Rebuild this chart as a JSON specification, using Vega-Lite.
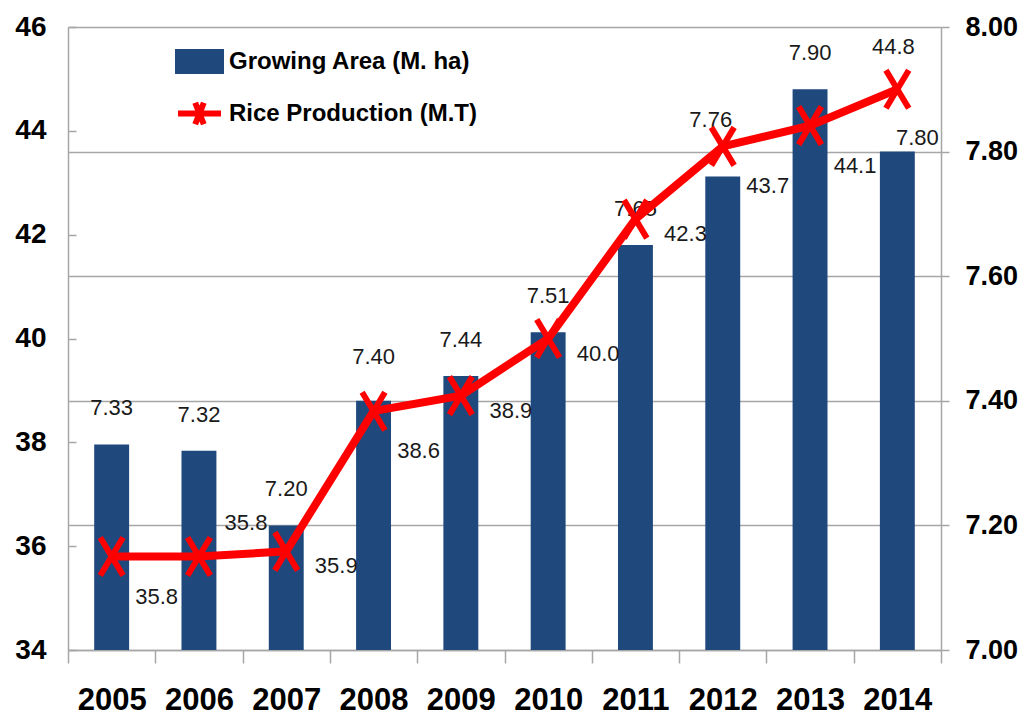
{
  "$schema": "https://vega.github.io/schema/vega-lite/v6.json",
  "width": 873,
  "height": 623,
  "autosize": {"type": "none"},
  "padding": {"left": 68, "top": 27, "right": 80, "bottom": 71},
  "background": "white",
  "config": {
    "view": {"stroke": null},
    "font": "Liberation Sans",
    "axis": {"domainColor": "#a6a6a6", "tickColor": "#a6a6a6", "gridColor": "#a6a6a6", "domainWidth": 1.5, "tickWidth": 1.5, "gridWidth": 1.5, "labelColor": "#000000", "titleColor": "#000000", "labelFont": "Liberation Sans"},
    "legend": {"labelFont": "Liberation Sans"},
    "text": {"font": "Liberation Sans"}
  },
  "data": {
    "values": [
      {"year": "2005", "area": 7.33, "production": 35.8},
      {"year": "2006", "area": 7.32, "production": 35.8},
      {"year": "2007", "area": 7.20, "production": 35.9},
      {"year": "2008", "area": 7.40, "production": 38.6},
      {"year": "2009", "area": 7.44, "production": 38.9},
      {"year": "2010", "area": 7.51, "production": 40.0},
      {"year": "2011", "area": 7.65, "production": 42.3},
      {"year": "2012", "area": 7.76, "production": 43.7},
      {"year": "2013", "area": 7.90, "production": 44.1},
      {"year": "2014", "area": 7.80, "production": 44.8}
    ]
  },
  "encoding": {
    "x": {
      "field": "year",
      "type": "ordinal",
      "scale": {"paddingInner": 0, "paddingOuter": 0},
      "axis": {
        "title": null,
        "labelAngle": 0,
        "labelFontSize": 31,
        "labelFontWeight": "bold",
        "labelPadding": 22,
        "tickSize": 13,
        "tickBand": "extent",
        "labelOverlap": false,
        "grid": false
      }
    }
  },
  "layer": [
    {
      "encoding": {
        "y": {
          "field": "area",
          "type": "quantitative",
          "scale": {"domain": [7, 8], "nice": false, "zero": false},
          "axis": {
            "orient": "right",
            "title": null,
            "values": [7, 7.2, 7.4, 7.6, 7.8, 8],
            "format": ".2f",
            "labelFontSize": 27,
            "labelFontWeight": "bold",
            "tickSize": 8,
            "labelPadding": 16,
            "grid": true
          }
        }
      },
      "layer": [
        {
          "mark": {"type": "bar", "clip": true, "width": {"band": 0.4}},
          "encoding": {
            "y2": {"datum": 7},
            "color": {
              "datum": "Growing Area (M. ha)",
              "type": "nominal",
              "scale": {"domain": ["Growing Area (M. ha)", "Rice Production (M.T)"], "range": ["#1F497D", "#FF0000"]},
              "legend": {
                "title": null,
                "orient": "none",
                "legendX": 107,
                "legendY": 10,
                "labelFontSize": 24,
                "labelFontWeight": "bold",
                "labelColor": "#000000",
                "labelOffset": 5,
                "rowPadding": 6,
                "symbolSize": 1849,
                "symbolStrokeWidth": 6,
                "labelLimit": 400,
                "encode": {
                  "symbols": {
                    "update": {
                      "shape": {"signal": "datum.value === 'Growing Area (M. ha)' ? 'M-1,-0.44H1V0.44H-1Z' : 'M-1,0H1M-0.2,-0.5L0.2,0.5M-0.2,0.5L0.2,-0.5'"},
                      "fill": {"signal": "datum.value === 'Growing Area (M. ha)' ? '#1F497D' : 'transparent'"},
                      "stroke": {"signal": "datum.value === 'Growing Area (M. ha)' ? 'transparent' : '#FF0000'"},
                      "strokeWidth": {"value": 6},
                      "opacity": {"value": 1}
                    }
                  }
                }
              }
            }
          }
        },
        {
          "transform": [{"filter": "indexof(['2008','2012','2014'], datum.year) < 0"}],
          "mark": {"type": "text", "dy": -36, "fontSize": 22, "color": "#1a1a1a"},
          "encoding": {"text": {"field": "area", "type": "quantitative", "format": ".2f"}}
        },
        {
          "transform": [{"filter": "datum.year === '2008'"}],
          "mark": {"type": "text", "dy": -44, "fontSize": 22, "color": "#1a1a1a"},
          "encoding": {"text": {"field": "area", "type": "quantitative", "format": ".2f"}}
        },
        {
          "transform": [{"filter": "datum.year === '2012'"}],
          "mark": {"type": "text", "dx": -12, "dy": -57, "fontSize": 22, "color": "#1a1a1a"},
          "encoding": {"text": {"field": "area", "type": "quantitative", "format": ".2f"}}
        },
        {
          "transform": [{"filter": "datum.year === '2014'"}],
          "mark": {"type": "text", "dx": 20, "dy": -14, "fontSize": 22, "color": "#1a1a1a"},
          "encoding": {"text": {"field": "area", "type": "quantitative", "format": ".2f"}}
        }
      ]
    },
    {
      "encoding": {
        "y": {
          "field": "production",
          "type": "quantitative",
          "scale": {"domain": [34, 46], "nice": false, "zero": false},
          "axis": {
            "orient": "left",
            "title": null,
            "values": [34, 36, 38, 40, 42, 44, 46],
            "labelFontSize": 28,
            "labelFontWeight": "bold",
            "tickSize": -8,
            "labelPadding": 30,
            "grid": false
          }
        }
      },
      "layer": [
        {
          "mark": {"type": "line", "strokeWidth": 8},
          "encoding": {"color": {"datum": "Rice Production (M.T)", "type": "nominal"}}
        },
        {
          "mark": {"type": "point", "shape": "M-0.6,-1L0.6,1M-0.6,1L0.6,-1", "filled": false, "color": "#FF0000", "strokeWidth": 6, "size": 1444, "opacity": 1}
        },
        {
          "transform": [{"filter": "indexof(['2005','2008','2012','2013'], datum.year) >= 0"}],
          "mark": {"type": "text", "dx": 45, "dy": 40, "fontSize": 22, "color": "#1a1a1a"},
          "encoding": {"text": {"field": "production", "type": "quantitative", "format": ".1f"}}
        },
        {
          "transform": [{"filter": "indexof(['2007','2009','2010','2011'], datum.year) >= 0"}],
          "mark": {"type": "text", "dx": 50, "dy": 15, "fontSize": 22, "color": "#1a1a1a"},
          "encoding": {"text": {"field": "production", "type": "quantitative", "format": ".1f"}}
        },
        {
          "transform": [{"filter": "datum.year === '2006'"}],
          "mark": {"type": "text", "dx": 47, "dy": -34, "fontSize": 22, "color": "#1a1a1a"},
          "encoding": {"text": {"field": "production", "type": "quantitative", "format": ".1f"}}
        },
        {
          "transform": [{"filter": "datum.year === '2014'"}],
          "mark": {"type": "text", "dx": -4, "dy": -42, "fontSize": 22, "color": "#1a1a1a"},
          "encoding": {"text": {"field": "production", "type": "quantitative", "format": ".1f"}}
        }
      ]
    }
  ],
  "resolve": {"scale": {"y": "independent"}}
}
